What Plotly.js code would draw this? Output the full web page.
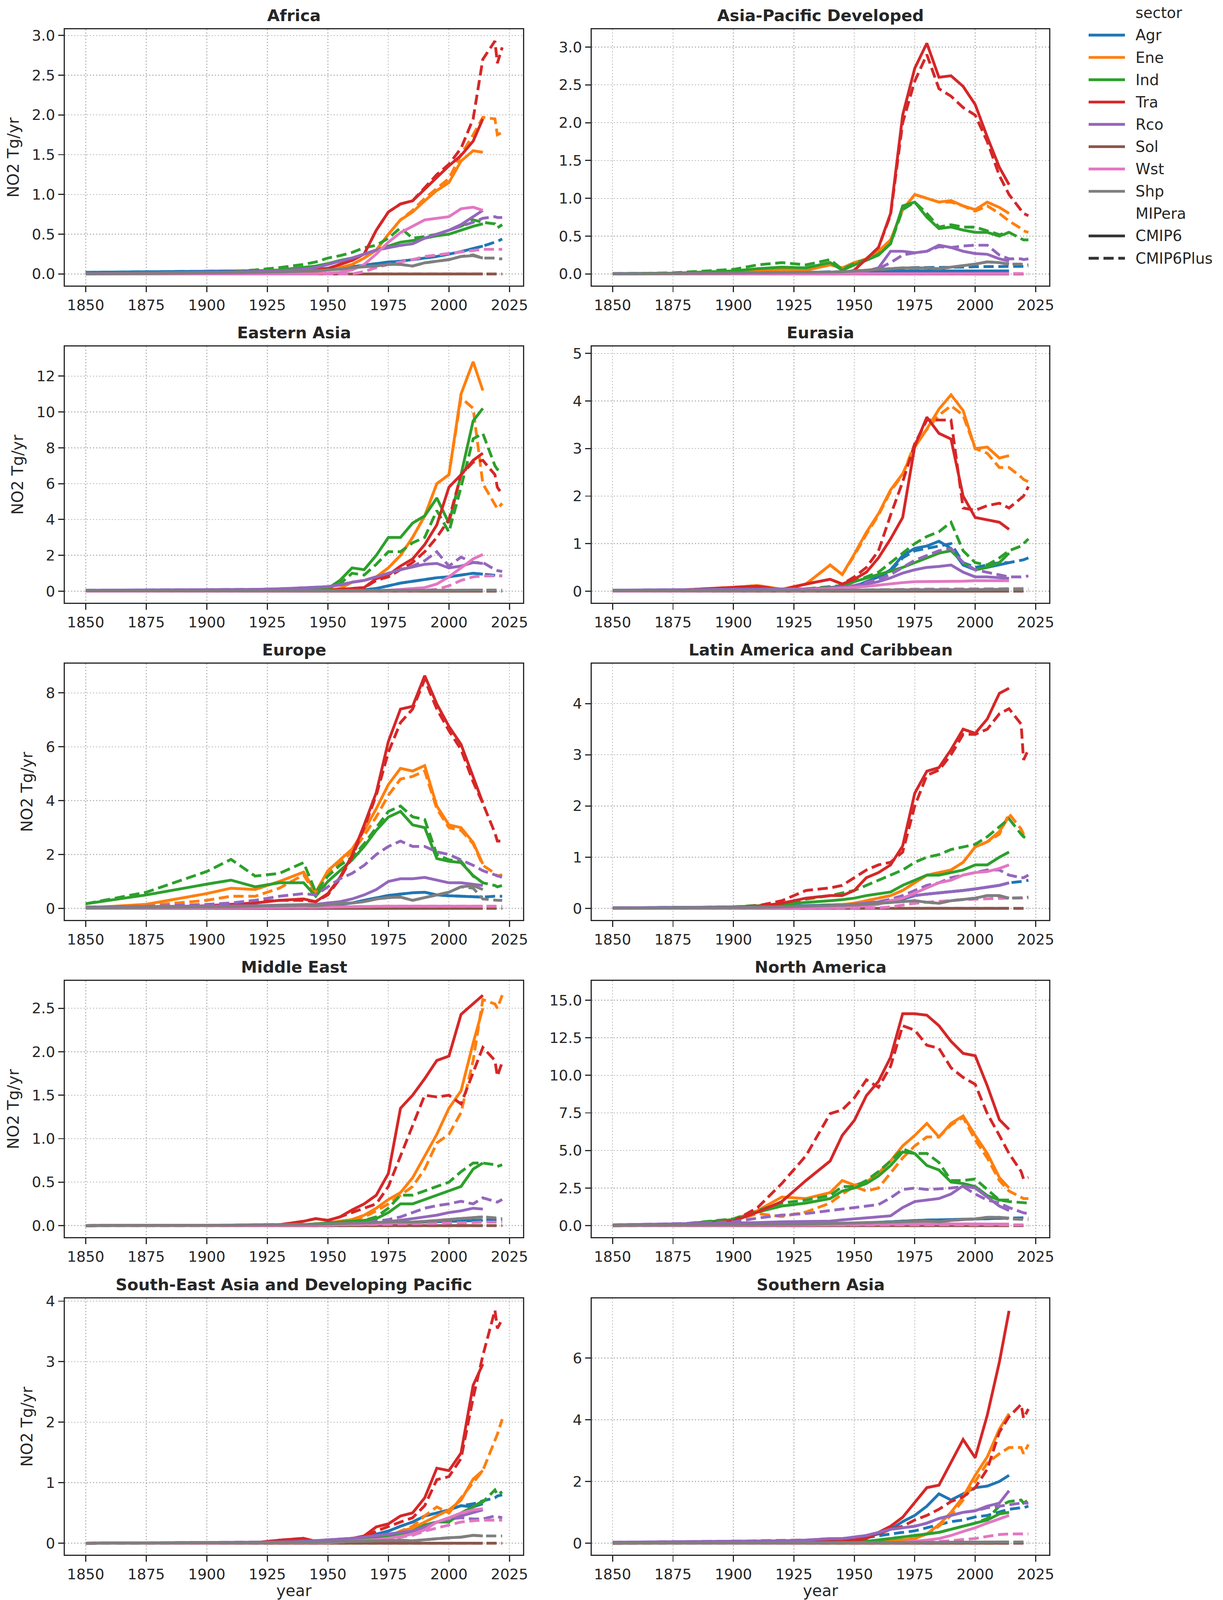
<!DOCTYPE html>
<html><head><meta charset="utf-8">
<script src="https://cdn.plot.ly/plotly-3.0.1.min.js"></script>
<style>html,body{margin:0;padding:0;background:#fff;overflow:hidden}</style>
</head><body><div id="chart"></div>
<script>
// ---------------- DATA ----------------
const YEARS_C6 = [1850,1875,1900,1910,1920,1930,1940,1945,1950,1955,1960,1965,1970,1975,1980,1985,1990,1995,2000,2005,2010,2014];
const YEARS_PL = [1850,1875,1900,1910,1920,1930,1940,1945,1950,1955,1960,1965,1970,1975,1980,1985,1990,1995,2000,2005,2010,2014,2019,2020,2022];
const SECTORS = ['Agr','Ene','Ind','Tra','Rco','Sol','Wst','Shp'];
const SECTOR_COLORS = ['#1f77b4','#ff7f0e','#2ca02c','#d62728','#9467bd','#8c564b','#e377c2','#7f7f7f'];
const MIPERAS = ['CMIP6','CMIP6Plus'];
const REGIONS = ['Africa','Asia-Pacific Developed','Eastern Asia','Eurasia','Europe','Latin America and Caribbean','Middle East','North America','South-East Asia and Developing Pacific','Southern Asia'];
const REGION_YMAX = [2.93,3.08,13.0,4.9,8.65,4.55,2.68,15.5,3.85,7.55];
const REGION_DTICK = [0.5,0.5,2,1,2,1,0.5,2.5,1,2];
const SOL_C6 = [0,0,0,0,0,0,0,0,0,0,0,0,0,0,0,0,0,0,0,0,0,0];
const SOL_PL = [0,0,0,0,0,0,0,0,0,0,0,0,0,0,0,0,0,0,0,0,0,0,0,0,0];

// Africa
const AFR_AGR_C6=[0.02,0.025,0.03,0.035,0.04,0.045,0.05,0.06,0.07,0.08,0.09,0.11,0.13,0.15,0.16,0.18,0.2,0.22,0.25,0.28,0.32,0.35];
const AFR_AGR_PL=[0.02,0.025,0.03,0.035,0.04,0.045,0.05,0.06,0.07,0.08,0.09,0.11,0.13,0.15,0.16,0.18,0.2,0.22,0.25,0.28,0.32,0.35,0.4,0.41,0.44];
const AFR_ENE_C6=[0,0,0,0,0.005,0.01,0.02,0.03,0.05,0.08,0.12,0.2,0.3,0.5,0.68,0.78,0.92,1.05,1.15,1.42,1.55,1.53];
const AFR_ENE_PL=[0,0,0,0,0.005,0.01,0.02,0.03,0.05,0.08,0.12,0.2,0.3,0.5,0.68,0.8,0.95,1.08,1.2,1.5,1.75,1.97,1.95,1.75,1.78];
const AFR_IND_C6=[0,0,0.01,0.02,0.03,0.05,0.08,0.1,0.13,0.17,0.2,0.25,0.3,0.35,0.4,0.42,0.45,0.48,0.5,0.55,0.6,0.63];
const AFR_IND_PL=[0,0,0.01,0.03,0.05,0.08,0.12,0.15,0.2,0.23,0.27,0.33,0.36,0.45,0.58,0.45,0.47,0.5,0.55,0.6,0.68,0.65,0.63,0.58,0.62];
const AFR_TRA_C6=[0,0,0,0.005,0.01,0.02,0.04,0.05,0.07,0.12,0.17,0.25,0.55,0.78,0.88,0.92,1.07,1.21,1.36,1.49,1.67,1.95];
const AFR_TRA_PL=[0,0,0,0.005,0.01,0.02,0.04,0.05,0.07,0.12,0.17,0.25,0.55,0.78,0.88,0.92,1.08,1.25,1.38,1.58,1.95,2.7,2.93,2.65,2.85];
const AFR_RCO_C6=[0.005,0.01,0.02,0.025,0.03,0.04,0.06,0.08,0.12,0.16,0.2,0.25,0.3,0.33,0.36,0.38,0.45,0.5,0.55,0.62,0.72,0.8];
const AFR_RCO_PL=[0.005,0.01,0.02,0.025,0.03,0.04,0.06,0.08,0.12,0.16,0.2,0.25,0.3,0.33,0.36,0.38,0.45,0.5,0.55,0.6,0.65,0.7,0.72,0.71,0.71];
const AFR_WST_C6=[0,0,0,0,0,0,0,0,0.01,0.02,0.05,0.12,0.25,0.4,0.52,0.6,0.68,0.7,0.72,0.82,0.84,0.8];
const AFR_WST_PL=[0,0,0,0,0,0,0,0,0,0,0,0.03,0.08,0.12,0.15,0.18,0.22,0.24,0.26,0.28,0.3,0.31,0.31,0.31,0.31];
const AFR_SHP_C6=[0,0.005,0.01,0.015,0.02,0.025,0.03,0.04,0.05,0.06,0.08,0.09,0.1,0.12,0.12,0.1,0.14,0.16,0.18,0.22,0.23,0.2];
const AFR_SHP_PL=[0,0.005,0.01,0.015,0.02,0.025,0.03,0.04,0.05,0.06,0.08,0.09,0.1,0.12,0.12,0.1,0.14,0.16,0.18,0.22,0.24,0.2,0.2,0.19,0.19];

// Asia-Pacific Developed
const APD_AGR_C6=[0.005,0.008,0.01,0.012,0.015,0.02,0.025,0.025,0.03,0.035,0.04,0.04,0.04,0.04,0.04,0.04,0.04,0.04,0.04,0.04,0.04,0.04];
const APD_AGR_PL=[0.005,0.008,0.01,0.012,0.015,0.02,0.03,0.03,0.04,0.05,0.06,0.07,0.08,0.085,0.085,0.085,0.09,0.09,0.095,0.1,0.1,0.1,0.1,0.1,0.1];
const APD_ENE_C6=[0,0.005,0.02,0.04,0.06,0.05,0.12,0.08,0.15,0.2,0.3,0.45,0.85,1.05,1.0,0.95,0.97,0.9,0.85,0.95,0.88,0.8];
const APD_ENE_PL=[0,0.005,0.02,0.04,0.06,0.05,0.12,0.08,0.15,0.2,0.3,0.45,0.85,1.05,1.0,0.95,0.95,0.9,0.83,0.9,0.8,0.7,0.6,0.57,0.55];
const APD_IND_C6=[0,0.01,0.04,0.07,0.09,0.08,0.15,0.05,0.12,0.18,0.25,0.4,0.9,0.95,0.75,0.6,0.62,0.58,0.55,0.55,0.5,0.55];
const APD_IND_PL=[0,0.015,0.06,0.12,0.15,0.12,0.19,0.06,0.14,0.19,0.26,0.4,0.85,0.95,0.8,0.62,0.65,0.62,0.62,0.57,0.52,0.55,0.47,0.45,0.45];
const APD_TRA_C6=[0,0,0,0,0,0,0,0,0.05,0.2,0.35,0.8,2.1,2.72,3.05,2.6,2.62,2.48,2.24,1.81,1.41,1.18];
const APD_TRA_PL=[0,0,0,0,0,0,0,0,0.05,0.2,0.35,0.78,2.0,2.55,2.9,2.45,2.35,2.2,2.1,1.75,1.3,1.05,0.85,0.8,0.77];
const APD_RCO_C6=[0,0,0.005,0.01,0.01,0.015,0.02,0.02,0.03,0.04,0.08,0.3,0.3,0.28,0.3,0.38,0.35,0.3,0.27,0.26,0.2,0.17];
const APD_RCO_PL=[0,0,0.005,0.01,0.01,0.015,0.02,0.02,0.03,0.04,0.07,0.15,0.25,0.28,0.3,0.36,0.35,0.37,0.38,0.38,0.25,0.2,0.2,0.19,0.2];
const APD_WST_C6=[0,0,0,0,0,0,0,0,0,0,0.002,0.003,0.004,0.004,0.005,0.005,0.005,0.005,0.005,0.005,0.005,0.005];
const APD_WST_PL=[0,0,0,0,0,0,0,0,0,0,0.002,0.003,0.004,0.004,0.005,0.005,0.005,0.005,0.005,0.005,0.005,0.005,0.005,0.005,0.005];
const APD_SHP_C6=[0,0.005,0.01,0.012,0.015,0.02,0.025,0.03,0.04,0.05,0.06,0.07,0.08,0.08,0.08,0.07,0.09,0.11,0.13,0.16,0.15,0.13];
const APD_SHP_PL=[0,0.005,0.01,0.012,0.015,0.02,0.025,0.03,0.04,0.05,0.06,0.07,0.08,0.08,0.08,0.07,0.09,0.11,0.13,0.16,0.15,0.13,0.13,0.12,0.12];

// Eastern Asia
const EAS_AGR_C6=[0,0,0,0,0,0.01,0.02,0.03,0.03,0.04,0.05,0.08,0.15,0.3,0.45,0.55,0.65,0.75,0.8,0.9,1.0,0.95];
const EAS_AGR_PL=[0,0,0,0,0,0.01,0.02,0.03,0.03,0.04,0.05,0.08,0.15,0.3,0.45,0.55,0.65,0.75,0.8,0.9,1.0,0.95,0.9,0.88,0.85];
const EAS_ENE_C6=[0,0,0,0,0.01,0.02,0.04,0.05,0.08,0.15,0.5,0.6,0.8,1.3,2.0,3.0,4.2,6.0,6.5,11.0,12.8,11.2];
const EAS_ENE_PL=[0,0,0,0,0.01,0.02,0.04,0.05,0.08,0.15,0.5,0.6,0.8,1.3,2.0,3.0,4.2,6.0,6.5,10.8,10.2,6.0,4.8,4.6,4.9];
const EAS_IND_C6=[0,0,0,0,0.02,0.04,0.08,0.1,0.15,0.6,1.3,1.2,2.0,3.0,3.0,3.8,4.2,5.2,3.8,6.5,9.5,10.2];
const EAS_IND_PL=[0,0,0,0,0.02,0.04,0.08,0.1,0.15,0.4,1.0,0.9,1.5,2.2,2.2,2.7,3.0,4.5,3.3,5.8,8.5,8.8,7.0,6.8,6.7];
const EAS_TRA_C6=[0,0,0,0,0,0.01,0.02,0.03,0.05,0.1,0.15,0.2,0.7,0.9,1.4,1.8,2.6,3.7,5.8,6.5,7.3,7.7];
const EAS_TRA_PL=[0,0,0,0,0,0.01,0.02,0.03,0.05,0.1,0.15,0.2,0.6,0.8,1.2,1.6,2.2,3.0,4.0,6.5,7.2,7.3,6.5,5.8,5.4];
const EAS_RCO_C6=[0.05,0.06,0.08,0.09,0.1,0.13,0.18,0.2,0.25,0.35,0.5,0.6,0.8,1.0,1.2,1.35,1.5,1.55,1.3,1.4,1.6,1.55];
const EAS_RCO_PL=[0.05,0.06,0.08,0.09,0.1,0.13,0.18,0.2,0.25,0.35,0.5,0.6,0.8,1.0,1.2,1.4,1.7,2.2,1.4,1.9,1.6,1.6,1.2,1.15,1.1];
const EAS_WST_C6=[0,0,0,0,0,0,0,0,0,0,0.01,0.02,0.03,0.05,0.1,0.15,0.2,0.4,0.8,1.3,1.8,2.05];
const EAS_WST_PL=[0,0,0,0,0,0,0,0,0,0,0,0,0,0.01,0.02,0.03,0.05,0.1,0.3,0.6,0.8,0.85,0.85,0.85,0.85];
const EAS_SHP_C6=[0.02,0.02,0.02,0.02,0.02,0.02,0.03,0.03,0.03,0.03,0.03,0.04,0.04,0.04,0.04,0.05,0.05,0.05,0.05,0.05,0.06,0.06];
const EAS_SHP_PL=[0.02,0.02,0.02,0.02,0.02,0.02,0.03,0.03,0.03,0.03,0.03,0.04,0.04,0.04,0.04,0.05,0.05,0.05,0.05,0.05,0.06,0.06,0.06,0.06,0.06];

// Eurasia
const EUA_AGR_C6=[0.01,0.015,0.02,0.02,0.02,0.03,0.05,0.05,0.1,0.2,0.3,0.45,0.75,0.9,0.95,1.05,0.9,0.55,0.45,0.5,0.55,0.6];
const EUA_AGR_PL=[0.01,0.015,0.02,0.02,0.02,0.03,0.05,0.05,0.1,0.2,0.3,0.42,0.7,0.85,0.9,0.95,1.0,0.6,0.5,0.55,0.6,0.6,0.65,0.66,0.7];
const EUA_ENE_C6=[0,0.02,0.08,0.12,0.04,0.15,0.55,0.35,0.78,1.24,1.63,2.13,2.47,3.03,3.41,3.83,4.13,3.8,3.0,3.03,2.8,2.85];
const EUA_ENE_PL=[0,0.02,0.08,0.12,0.04,0.15,0.55,0.35,0.75,1.2,1.6,2.1,2.45,3.1,3.4,3.7,3.9,3.7,3.0,2.9,2.6,2.6,2.4,2.35,2.3];
const EUA_IND_C6=[0,0.005,0.01,0.015,0.01,0.04,0.08,0.1,0.2,0.28,0.35,0.42,0.5,0.6,0.7,0.8,0.85,0.6,0.45,0.5,0.6,0.8];
const EUA_IND_PL=[0,0.005,0.01,0.015,0.01,0.05,0.1,0.12,0.2,0.3,0.4,0.6,0.8,1.0,1.15,1.25,1.45,0.85,0.6,0.55,0.7,0.85,0.95,1.0,1.1];
const EUA_TRA_C6=[0,0.01,0.08,0.1,0.03,0.15,0.25,0.15,0.25,0.4,0.7,1.1,1.55,3.05,3.66,3.32,3.2,2.0,1.55,1.5,1.45,1.3];
const EUA_TRA_PL=[0,0.01,0.08,0.1,0.03,0.15,0.25,0.15,0.3,0.5,0.85,1.6,2.3,3.1,3.6,3.6,3.6,1.75,1.7,1.8,1.85,1.75,1.95,2.0,2.2];
const EUA_RCO_C6=[0.02,0.025,0.03,0.035,0.04,0.05,0.07,0.08,0.1,0.15,0.2,0.28,0.38,0.45,0.5,0.52,0.55,0.4,0.3,0.3,0.28,0.27];
const EUA_RCO_PL=[0.02,0.025,0.03,0.035,0.04,0.05,0.07,0.08,0.12,0.18,0.25,0.35,0.5,0.65,0.75,0.85,0.9,0.6,0.45,0.4,0.35,0.3,0.3,0.31,0.32];
const EUA_WST_C6=[0,0,0.01,0.015,0.02,0.03,0.05,0.06,0.08,0.1,0.13,0.16,0.18,0.2,0.2,0.2,0.21,0.21,0.22,0.22,0.22,0.22];
const EUA_WST_PL=[0,0,0,0,0.005,0.01,0.015,0.02,0.02,0.025,0.03,0.035,0.04,0.04,0.045,0.045,0.05,0.05,0.05,0.05,0.055,0.06,0.06,0.06,0.06];
const EUA_SHP_C6=[0.01,0.01,0.015,0.015,0.015,0.02,0.02,0.02,0.02,0.025,0.025,0.03,0.03,0.03,0.035,0.035,0.035,0.03,0.03,0.035,0.04,0.04];
const EUA_SHP_PL=[0.01,0.01,0.015,0.015,0.015,0.02,0.02,0.02,0.02,0.025,0.025,0.03,0.03,0.03,0.035,0.035,0.035,0.03,0.03,0.035,0.04,0.04,0.04,0.04,0.04];

// Europe
const EUR_AGR_C6=[0.01,0.02,0.03,0.04,0.04,0.05,0.07,0.07,0.1,0.15,0.2,0.3,0.4,0.48,0.53,0.58,0.6,0.5,0.47,0.45,0.42,0.42];
const EUR_AGR_PL=[0.01,0.02,0.03,0.04,0.04,0.05,0.07,0.07,0.1,0.15,0.2,0.3,0.4,0.48,0.53,0.58,0.6,0.5,0.47,0.45,0.42,0.42,0.45,0.45,0.45];
const EUR_ENE_C6=[0.02,0.15,0.55,0.75,0.7,1.0,1.35,0.6,1.4,1.8,2.2,2.9,3.7,4.6,5.2,5.1,5.3,3.8,3.1,3.0,2.45,1.65];
const EUR_ENE_PL=[0,0.1,0.3,0.45,0.45,0.75,1.25,0.5,1.3,1.7,2.1,2.7,3.4,4.2,4.8,4.9,5.1,3.7,3.0,2.9,2.4,1.6,1.3,1.2,1.25];
const EUR_IND_C6=[0.17,0.5,0.9,1.05,0.8,0.95,0.95,0.45,1.0,1.4,1.8,2.3,2.9,3.39,3.6,3.1,3.0,1.85,1.75,1.7,1.22,0.95];
const EUR_IND_PL=[0.17,0.6,1.37,1.82,1.2,1.3,1.7,0.6,1.2,1.6,1.9,2.4,3.0,3.6,3.8,3.4,3.3,2.0,1.8,1.75,1.2,0.95,0.85,0.8,0.85];
const EUR_TRA_C6=[0,0.02,0.1,0.15,0.2,0.3,0.35,0.25,0.55,1.15,1.97,3.1,4.3,6.2,7.4,7.5,8.64,7.59,6.76,6.09,4.89,3.92];
const EUR_TRA_PL=[0,0.02,0.1,0.15,0.25,0.3,0.3,0.25,0.5,1.1,1.9,3.0,4.2,5.8,6.9,7.4,8.5,7.4,6.6,5.9,4.7,3.9,2.8,2.5,2.5];
const EUR_RCO_C6=[0.05,0.06,0.08,0.09,0.1,0.12,0.15,0.15,0.2,0.25,0.35,0.5,0.7,1.0,1.1,1.1,1.15,1.05,0.95,0.95,0.9,0.85];
const EUR_RCO_PL=[0.05,0.08,0.15,0.2,0.3,0.45,0.55,0.5,0.8,1.1,1.3,1.6,2.0,2.3,2.5,2.3,2.3,2.1,2.0,1.8,1.6,1.4,1.25,1.2,1.15];
const EUR_WST_C6=[0,0.005,0.01,0.015,0.02,0.03,0.04,0.04,0.05,0.06,0.07,0.08,0.08,0.08,0.08,0.08,0.08,0.08,0.08,0.08,0.08,0.08];
const EUR_WST_PL=[0,0.005,0.01,0.015,0.02,0.03,0.04,0.04,0.05,0.06,0.07,0.08,0.08,0.08,0.08,0.08,0.08,0.08,0.08,0.08,0.08,0.08,0.08,0.08,0.08];
const EUR_SHP_C6=[0.02,0.03,0.05,0.06,0.08,0.1,0.12,0.1,0.15,0.18,0.2,0.25,0.35,0.4,0.42,0.3,0.4,0.5,0.6,0.8,0.85,0.7];
const EUR_SHP_PL=[0.02,0.03,0.05,0.06,0.08,0.1,0.12,0.1,0.15,0.18,0.2,0.25,0.35,0.4,0.42,0.3,0.4,0.5,0.6,0.8,0.75,0.35,0.3,0.3,0.3];

// Latin America and Caribbean
const LAM_AGR_C6=[0.01,0.015,0.02,0.03,0.04,0.05,0.06,0.07,0.08,0.1,0.12,0.15,0.18,0.25,0.28,0.3,0.32,0.35,0.38,0.42,0.45,0.5];
const LAM_AGR_PL=[0.01,0.015,0.02,0.03,0.04,0.05,0.06,0.07,0.08,0.1,0.12,0.15,0.18,0.25,0.28,0.3,0.32,0.35,0.38,0.42,0.45,0.5,0.52,0.53,0.55];
const LAM_ENE_C6=[0,0,0.01,0.015,0.02,0.03,0.05,0.07,0.1,0.15,0.2,0.25,0.35,0.5,0.65,0.7,0.75,0.9,1.2,1.3,1.5,1.8];
const LAM_ENE_PL=[0,0,0.01,0.015,0.02,0.03,0.05,0.07,0.1,0.15,0.2,0.25,0.35,0.5,0.65,0.7,0.75,0.9,1.2,1.3,1.45,1.85,1.55,1.45,1.5];
const LAM_IND_C6=[0,0.01,0.03,0.05,0.08,0.12,0.15,0.17,0.2,0.25,0.28,0.32,0.45,0.55,0.65,0.65,0.7,0.75,0.85,0.85,1.0,1.1];
const LAM_IND_PL=[0,0.01,0.03,0.06,0.1,0.18,0.25,0.3,0.35,0.45,0.55,0.65,0.75,0.9,1.0,1.05,1.15,1.2,1.25,1.4,1.6,1.75,1.45,1.4,1.35];
const LAM_TRA_C6=[0,0.005,0.02,0.04,0.1,0.2,0.25,0.25,0.35,0.6,0.7,0.85,1.22,2.25,2.68,2.75,3.1,3.5,3.42,3.7,4.2,4.3];
const LAM_TRA_PL=[0,0.005,0.02,0.05,0.15,0.35,0.4,0.45,0.6,0.75,0.85,0.9,1.1,2.0,2.6,2.7,3.0,3.4,3.4,3.5,3.8,3.9,3.6,2.9,3.1];
const LAM_RCO_C6=[0.01,0.015,0.02,0.025,0.03,0.04,0.05,0.06,0.08,0.1,0.12,0.15,0.2,0.25,0.28,0.3,0.32,0.35,0.38,0.42,0.45,0.5];
const LAM_RCO_PL=[0.01,0.015,0.02,0.025,0.03,0.04,0.05,0.06,0.08,0.1,0.13,0.18,0.25,0.35,0.45,0.5,0.6,0.65,0.7,0.75,0.75,0.65,0.6,0.6,0.65];
const LAM_WST_C6=[0,0,0,0,0,0,0.01,0.02,0.03,0.05,0.08,0.15,0.2,0.3,0.4,0.5,0.55,0.65,0.7,0.72,0.78,0.85];
const LAM_WST_PL=[0,0,0,0,0,0,0,0,0,0,0.01,0.03,0.07,0.1,0.12,0.14,0.16,0.17,0.18,0.19,0.2,0.2,0.2,0.2,0.2];
const LAM_SHP_C6=[0,0.005,0.01,0.02,0.03,0.04,0.05,0.06,0.07,0.08,0.1,0.12,0.14,0.15,0.12,0.1,0.15,0.17,0.2,0.25,0.25,0.2];
const LAM_SHP_PL=[0,0.005,0.01,0.02,0.03,0.04,0.05,0.06,0.07,0.08,0.1,0.12,0.14,0.15,0.12,0.1,0.15,0.17,0.2,0.25,0.24,0.2,0.2,0.21,0.22];

// Middle East
const MEA_AGR_C6=[0,0,0.005,0.005,0.005,0.01,0.01,0.01,0.01,0.015,0.02,0.02,0.025,0.03,0.03,0.035,0.04,0.045,0.05,0.055,0.06,0.06];
const MEA_AGR_PL=[0,0,0.005,0.005,0.005,0.01,0.01,0.01,0.01,0.015,0.02,0.02,0.025,0.03,0.03,0.035,0.04,0.045,0.05,0.055,0.06,0.06,0.065,0.065,0.07];
const MEA_ENE_C6=[0,0,0,0,0,0.005,0.01,0.02,0.03,0.05,0.07,0.12,0.2,0.3,0.38,0.55,0.8,1.05,1.35,1.55,2.1,2.5];
const MEA_ENE_PL=[0,0,0,0,0,0.005,0.01,0.02,0.03,0.05,0.07,0.1,0.17,0.25,0.35,0.45,0.65,0.95,1.05,1.3,1.9,2.6,2.55,2.5,2.65];
const MEA_IND_C6=[0,0,0,0,0,0.005,0.01,0.02,0.03,0.04,0.05,0.06,0.08,0.15,0.25,0.25,0.3,0.35,0.4,0.45,0.65,0.72];
const MEA_IND_PL=[0,0,0,0,0,0.005,0.01,0.02,0.03,0.04,0.05,0.06,0.1,0.2,0.35,0.35,0.4,0.45,0.5,0.62,0.72,0.72,0.7,0.68,0.7];
const MEA_TRA_C6=[0,0,0,0,0.005,0.01,0.05,0.08,0.06,0.1,0.18,0.25,0.35,0.6,1.35,1.5,1.69,1.9,1.95,2.43,2.55,2.65];
const MEA_TRA_PL=[0,0,0,0,0.005,0.01,0.05,0.08,0.06,0.1,0.15,0.2,0.25,0.45,0.8,1.15,1.5,1.48,1.5,1.4,1.75,2.05,1.9,1.72,1.88];
const MEA_RCO_C6=[0,0,0,0,0,0.005,0.005,0.01,0.01,0.015,0.02,0.025,0.03,0.045,0.06,0.08,0.1,0.12,0.15,0.17,0.2,0.19];
const MEA_RCO_PL=[0,0,0,0,0,0.005,0.005,0.01,0.01,0.015,0.02,0.03,0.05,0.07,0.1,0.15,0.2,0.23,0.25,0.28,0.25,0.32,0.28,0.27,0.3];
const MEA_WST_C6=[0,0,0,0,0,0,0,0,0.005,0.01,0.01,0.015,0.02,0.025,0.03,0.04,0.05,0.06,0.07,0.08,0.09,0.1];
const MEA_WST_PL=[0,0,0,0,0,0,0,0,0.005,0.01,0.01,0.01,0.015,0.015,0.02,0.02,0.025,0.025,0.03,0.03,0.035,0.04,0.04,0.04,0.04];
const MEA_SHP_C6=[0,0,0.005,0.005,0.01,0.01,0.015,0.015,0.02,0.025,0.03,0.035,0.04,0.045,0.045,0.04,0.045,0.055,0.07,0.08,0.09,0.1];
const MEA_SHP_PL=[0,0,0.005,0.005,0.01,0.01,0.015,0.015,0.02,0.025,0.03,0.035,0.04,0.045,0.045,0.04,0.045,0.055,0.07,0.08,0.09,0.1,0.09,0.08,0.08];

// North America
const NAM_AGR_C6=[0.02,0.03,0.05,0.07,0.09,0.1,0.12,0.13,0.15,0.18,0.22,0.26,0.3,0.35,0.37,0.38,0.4,0.42,0.45,0.48,0.5,0.5];
const NAM_AGR_PL=[0.02,0.03,0.05,0.07,0.09,0.1,0.12,0.13,0.15,0.18,0.22,0.26,0.3,0.35,0.37,0.38,0.4,0.42,0.45,0.48,0.5,0.5,0.55,0.52,0.5];
const NAM_ENE_C6=[0,0.05,0.4,1.0,1.9,1.8,2.2,3.0,2.7,2.9,3.5,4.3,5.3,6.0,6.8,5.9,6.8,7.3,6.0,4.8,3.2,2.5];
const NAM_ENE_PL=[0,0.04,0.3,0.8,0.6,0.9,1.5,2.1,2.6,2.3,2.5,3.5,4.5,5.3,5.9,5.9,6.7,7.2,5.7,4.5,3.0,2.3,1.9,1.8,1.8];
const NAM_IND_C6=[0,0.05,0.4,0.9,1.3,1.5,1.8,2.3,2.5,2.8,3.3,4.0,4.9,4.8,4.0,3.7,2.9,2.8,2.6,2.0,1.7,1.7];
const NAM_IND_PL=[0,0.05,0.45,1.0,1.5,1.7,2.0,2.6,2.6,3.0,3.6,4.3,5.1,4.8,4.8,4.2,3.0,3.0,3.1,2.4,1.7,1.6,1.55,1.5,1.5];
const NAM_TRA_C6=[0,0.02,0.3,0.9,1.6,3.0,4.3,6.0,7.0,8.65,9.6,11.2,14.1,14.1,14.0,13.3,12.26,11.46,11.3,9.3,7.05,6.4];
const NAM_TRA_PL=[0,0.02,0.3,1.2,2.8,4.65,7.45,7.7,8.5,9.7,9.2,10.6,13.3,13.0,12.0,11.8,10.5,9.86,9.4,7.45,6.0,4.8,3.6,3.1,3.2];
const NAM_RCO_C6=[0.05,0.1,0.15,0.2,0.25,0.28,0.3,0.38,0.45,0.52,0.6,0.65,1.2,1.6,1.7,1.8,2.1,2.65,2.5,1.9,1.3,1.0];
const NAM_RCO_PL=[0.05,0.12,0.25,0.5,0.7,0.8,1.0,1.1,1.2,1.3,1.4,1.85,2.4,2.5,2.4,2.45,2.5,2.6,2.1,1.7,1.5,1.2,0.9,0.85,0.8];
const NAM_WST_C6=[0,0,0.01,0.02,0.03,0.04,0.05,0.06,0.07,0.08,0.1,0.13,0.15,0.14,0.13,0.12,0.12,0.11,0.1,0.1,0.1,0.1];
const NAM_WST_PL=[0,0,0.005,0.01,0.015,0.02,0.025,0.03,0.035,0.04,0.045,0.05,0.05,0.05,0.05,0.05,0.05,0.05,0.05,0.05,0.05,0.05,0.05,0.05,0.05];
const NAM_SHP_C6=[0.02,0.03,0.05,0.06,0.08,0.1,0.12,0.15,0.18,0.2,0.22,0.26,0.3,0.32,0.3,0.25,0.35,0.4,0.45,0.55,0.55,0.5];
const NAM_SHP_PL=[0.02,0.03,0.05,0.06,0.08,0.1,0.12,0.15,0.18,0.2,0.22,0.26,0.3,0.32,0.3,0.25,0.35,0.4,0.45,0.55,0.55,0.45,0.4,0.4,0.4];

// South-East Asia and Developing Pacific
const SEA_AGR_C6=[0,0.002,0.005,0.008,0.01,0.015,0.02,0.03,0.04,0.06,0.08,0.1,0.15,0.2,0.28,0.35,0.45,0.5,0.55,0.62,0.6,0.65];
const SEA_AGR_PL=[0,0.002,0.005,0.008,0.01,0.015,0.02,0.03,0.04,0.06,0.08,0.1,0.15,0.2,0.28,0.35,0.45,0.5,0.55,0.62,0.65,0.7,0.75,0.78,0.8];
const SEA_ENE_C6=[0,0,0,0,0.002,0.005,0.008,0.01,0.01,0.02,0.03,0.045,0.06,0.1,0.2,0.25,0.35,0.45,0.55,0.71,1.06,1.2];
const SEA_ENE_PL=[0,0,0,0,0.002,0.005,0.008,0.01,0.01,0.02,0.03,0.045,0.06,0.1,0.2,0.28,0.45,0.6,0.5,0.75,1.0,1.2,1.7,1.8,2.05];
const SEA_IND_C6=[0,0,0,0.002,0.005,0.008,0.01,0.01,0.02,0.03,0.04,0.06,0.08,0.11,0.15,0.2,0.3,0.35,0.35,0.5,0.6,0.7];
const SEA_IND_PL=[0,0,0,0.002,0.005,0.008,0.01,0.01,0.02,0.03,0.04,0.06,0.08,0.11,0.15,0.2,0.3,0.35,0.35,0.48,0.6,0.68,0.88,0.8,0.85];
const SEA_TRA_C6=[0,0.002,0.005,0.008,0.01,0.05,0.08,0.03,0.04,0.06,0.08,0.12,0.27,0.32,0.45,0.5,0.75,1.24,1.2,1.49,2.61,2.96];
const SEA_TRA_PL=[0,0.002,0.005,0.008,0.01,0.05,0.08,0.03,0.04,0.06,0.08,0.1,0.2,0.28,0.35,0.42,0.62,1.05,1.1,1.4,2.4,3.1,3.85,3.55,3.7];
const SEA_RCO_C6=[0,0.005,0.01,0.012,0.015,0.02,0.03,0.04,0.05,0.06,0.08,0.1,0.12,0.15,0.18,0.2,0.27,0.35,0.42,0.45,0.5,0.55];
const SEA_RCO_PL=[0,0.005,0.01,0.012,0.015,0.02,0.03,0.04,0.05,0.06,0.08,0.1,0.12,0.15,0.18,0.2,0.27,0.35,0.4,0.42,0.4,0.4,0.45,0.44,0.42];
const SEA_WST_C6=[0,0,0,0,0,0,0.005,0.005,0.01,0.02,0.03,0.045,0.06,0.08,0.12,0.15,0.22,0.35,0.42,0.5,0.55,0.57];
const SEA_WST_PL=[0,0,0,0,0,0,0.005,0.005,0.01,0.02,0.03,0.04,0.05,0.07,0.1,0.13,0.2,0.25,0.3,0.35,0.37,0.38,0.38,0.38,0.38];
const SEA_SHP_C6=[0,0.002,0.005,0.008,0.01,0.012,0.015,0.015,0.02,0.025,0.03,0.035,0.04,0.045,0.05,0.04,0.06,0.08,0.09,0.1,0.13,0.12];
const SEA_SHP_PL=[0,0.002,0.005,0.008,0.01,0.012,0.015,0.015,0.02,0.025,0.03,0.035,0.04,0.045,0.05,0.04,0.06,0.08,0.09,0.1,0.13,0.12,0.12,0.12,0.12];

// Southern Asia
const SAS_AGR_C6=[0,0.01,0.02,0.03,0.04,0.05,0.07,0.08,0.1,0.2,0.3,0.45,0.7,0.9,1.2,1.6,1.4,1.6,1.8,1.85,2.0,2.2];
const SAS_AGR_PL=[0,0.01,0.02,0.03,0.04,0.05,0.07,0.08,0.1,0.18,0.25,0.3,0.35,0.4,0.5,0.6,0.7,0.75,0.85,0.9,1.0,1.1,1.15,1.15,1.2];
const SAS_ENE_C6=[0,0,0,0,0.002,0.005,0.008,0.01,0.01,0.03,0.05,0.08,0.1,0.15,0.3,0.6,1.0,1.5,2.2,2.8,3.7,4.2];
const SAS_ENE_PL=[0,0,0,0,0.002,0.005,0.008,0.01,0.01,0.03,0.05,0.08,0.1,0.15,0.3,0.55,0.9,1.4,2.0,2.6,2.9,3.1,3.1,2.9,3.2];
const SAS_IND_C6=[0,0,0.005,0.008,0.01,0.015,0.02,0.025,0.03,0.06,0.1,0.15,0.2,0.25,0.3,0.35,0.45,0.55,0.65,0.75,0.95,1.0];
const SAS_IND_PL=[0,0,0.005,0.008,0.01,0.015,0.02,0.025,0.03,0.06,0.1,0.15,0.2,0.25,0.3,0.35,0.45,0.55,0.65,0.8,1.2,1.35,1.4,1.3,1.4];
const SAS_TRA_C6=[0,0.01,0.02,0.03,0.05,0.05,0.05,0.05,0.08,0.15,0.35,0.55,0.84,1.32,1.8,1.88,2.63,3.36,2.77,4.15,5.87,7.53];
const SAS_TRA_PL=[0,0.02,0.04,0.08,0.1,0.1,0.1,0.08,0.1,0.2,0.3,0.45,0.55,0.75,0.9,1.1,1.35,1.5,1.8,2.4,3.6,4.1,4.5,4.05,4.35];
const SAS_RCO_C6=[0.03,0.04,0.05,0.06,0.08,0.1,0.15,0.15,0.2,0.25,0.35,0.45,0.5,0.55,0.65,0.8,0.9,1.0,1.05,1.2,1.3,1.7];
const SAS_RCO_PL=[0.03,0.04,0.05,0.06,0.08,0.1,0.15,0.15,0.2,0.25,0.35,0.45,0.5,0.55,0.65,0.8,0.9,1.0,1.05,1.15,1.2,1.25,1.3,1.3,1.3];
const SAS_WST_C6=[0,0,0,0,0,0,0,0,0,0.005,0.01,0.02,0.03,0.06,0.1,0.15,0.25,0.38,0.5,0.65,0.8,0.9];
const SAS_WST_PL=[0,0,0,0,0,0,0,0,0,0,0,0.005,0.01,0.02,0.03,0.05,0.08,0.12,0.15,0.22,0.28,0.3,0.3,0.3,0.3];
const SAS_SHP_C6=[0.005,0.005,0.01,0.01,0.01,0.01,0.015,0.015,0.015,0.02,0.02,0.02,0.02,0.025,0.025,0.025,0.03,0.03,0.03,0.035,0.04,0.04];
const SAS_SHP_PL=[0.005,0.005,0.01,0.01,0.01,0.01,0.015,0.015,0.015,0.02,0.02,0.02,0.02,0.025,0.025,0.025,0.03,0.03,0.03,0.035,0.04,0.04,0.04,0.04,0.04];

// table built from the named arrays: region -> sector -> [CMIP6, CMIP6Plus]
const TABLE = [
 [[AFR_AGR_C6,AFR_AGR_PL],[AFR_ENE_C6,AFR_ENE_PL],[AFR_IND_C6,AFR_IND_PL],[AFR_TRA_C6,AFR_TRA_PL],[AFR_RCO_C6,AFR_RCO_PL],[SOL_C6,SOL_PL],[AFR_WST_C6,AFR_WST_PL],[AFR_SHP_C6,AFR_SHP_PL]],
 [[APD_AGR_C6,APD_AGR_PL],[APD_ENE_C6,APD_ENE_PL],[APD_IND_C6,APD_IND_PL],[APD_TRA_C6,APD_TRA_PL],[APD_RCO_C6,APD_RCO_PL],[SOL_C6,SOL_PL],[APD_WST_C6,APD_WST_PL],[APD_SHP_C6,APD_SHP_PL]],
 [[EAS_AGR_C6,EAS_AGR_PL],[EAS_ENE_C6,EAS_ENE_PL],[EAS_IND_C6,EAS_IND_PL],[EAS_TRA_C6,EAS_TRA_PL],[EAS_RCO_C6,EAS_RCO_PL],[SOL_C6,SOL_PL],[EAS_WST_C6,EAS_WST_PL],[EAS_SHP_C6,EAS_SHP_PL]],
 [[EUA_AGR_C6,EUA_AGR_PL],[EUA_ENE_C6,EUA_ENE_PL],[EUA_IND_C6,EUA_IND_PL],[EUA_TRA_C6,EUA_TRA_PL],[EUA_RCO_C6,EUA_RCO_PL],[SOL_C6,SOL_PL],[EUA_WST_C6,EUA_WST_PL],[EUA_SHP_C6,EUA_SHP_PL]],
 [[EUR_AGR_C6,EUR_AGR_PL],[EUR_ENE_C6,EUR_ENE_PL],[EUR_IND_C6,EUR_IND_PL],[EUR_TRA_C6,EUR_TRA_PL],[EUR_RCO_C6,EUR_RCO_PL],[SOL_C6,SOL_PL],[EUR_WST_C6,EUR_WST_PL],[EUR_SHP_C6,EUR_SHP_PL]],
 [[LAM_AGR_C6,LAM_AGR_PL],[LAM_ENE_C6,LAM_ENE_PL],[LAM_IND_C6,LAM_IND_PL],[LAM_TRA_C6,LAM_TRA_PL],[LAM_RCO_C6,LAM_RCO_PL],[SOL_C6,SOL_PL],[LAM_WST_C6,LAM_WST_PL],[LAM_SHP_C6,LAM_SHP_PL]],
 [[MEA_AGR_C6,MEA_AGR_PL],[MEA_ENE_C6,MEA_ENE_PL],[MEA_IND_C6,MEA_IND_PL],[MEA_TRA_C6,MEA_TRA_PL],[MEA_RCO_C6,MEA_RCO_PL],[SOL_C6,SOL_PL],[MEA_WST_C6,MEA_WST_PL],[MEA_SHP_C6,MEA_SHP_PL]],
 [[NAM_AGR_C6,NAM_AGR_PL],[NAM_ENE_C6,NAM_ENE_PL],[NAM_IND_C6,NAM_IND_PL],[NAM_TRA_C6,NAM_TRA_PL],[NAM_RCO_C6,NAM_RCO_PL],[SOL_C6,SOL_PL],[NAM_WST_C6,NAM_WST_PL],[NAM_SHP_C6,NAM_SHP_PL]],
 [[SEA_AGR_C6,SEA_AGR_PL],[SEA_ENE_C6,SEA_ENE_PL],[SEA_IND_C6,SEA_IND_PL],[SEA_TRA_C6,SEA_TRA_PL],[SEA_RCO_C6,SEA_RCO_PL],[SOL_C6,SOL_PL],[SEA_WST_C6,SEA_WST_PL],[SEA_SHP_C6,SEA_SHP_PL]],
 [[SAS_AGR_C6,SAS_AGR_PL],[SAS_ENE_C6,SAS_ENE_PL],[SAS_IND_C6,SAS_IND_PL],[SAS_TRA_C6,SAS_TRA_PL],[SAS_RCO_C6,SAS_RCO_PL],[SOL_C6,SOL_PL],[SAS_WST_C6,SAS_WST_PL],[SAS_SHP_C6,SAS_SHP_PL]]
];

// ---------------- LAYOUT / DRAW ----------------
// reference frame is 3131 x 4252; everything is placed in that frame and scaled to the real viewport
const REF_W = 3131, REF_H = 4252;
const W = Math.round(window.innerWidth || REF_W);
const H = Math.round(window.innerHeight || REF_H);
const SC = Math.min(W/REF_W, H/REF_H);
const px = v => v*SC;
const chartDiv = document.getElementById('chart');
chartDiv.style.width = W+'px'; chartDiv.style.height = H+'px';

const FONT = 'DejaVu Sans, Liberation Sans, sans-serif';
const TXT = '#262626';
const COL_X = [[166,1339],[1515,2686]];
const ROW_TOP = [78,921,1764,2607,3451];
const AX_H = 681;
const LINE_W = px(7.5);
const DASH = Math.round(px(27))+'px,'+Math.round(px(12))+'px';

const traces = [];
const layout = {
  width: W, height: H,
  margin: {l:0, r:0, t:0, b:0},
  paper_bgcolor: '#ffffff', plot_bgcolor: '#ffffff',
  font: {family: FONT, color: TXT, size: px(39)},
  showlegend: false,
  annotations: [], shapes: []
};

REGIONS.forEach((name, i) => {
  const row = Math.floor(i/2), col = i%2;
  const k = i+1;
  const xa = 'x'+(k===1?'':k), ya = 'y'+(k===1?'':k);
  const top = ROW_TOP[row];
  const yDom = [1-(top+AX_H)/REF_H, 1-top/REF_H];
  const xDom = [COL_X[col][0]/REF_W, COL_X[col][1]/REF_W];
  const common = {
    showline: true, mirror: true, linecolor: TXT, linewidth: px(3),
    ticks: 'outside', ticklen: px(15), tickwidth: px(3), tickcolor: TXT,
    tickfont: {family: FONT, size: px(39), color: TXT},
    showgrid: true, gridcolor: '#b8b8b8', gridwidth: px(2.5), griddash: Math.max(1,Math.round(px(3)))+'px,'+Math.max(2,Math.round(px(5)))+'px',
    zeroline: false, automargin: false
  };
  layout['xaxis'+(k===1?'':k)] = Object.assign({}, common, {
    domain: xDom, anchor: ya, range: [1841.4, 2030.6],
    tick0: 1850, dtick: 25, tickformat: 'd',
    title: row===4 ? {text:'year', font:{family:FONT,size:px(42),color:TXT}, standoff: px(8)} : {text:''}
  });
  const ymax = REGION_YMAX[i];
  const dt = REGION_DTICK[i];
  layout['yaxis'+(k===1?'':k)] = Object.assign({}, common, {
    domain: yDom, anchor: xa, range: [-0.05*ymax, 1.05*ymax],
    tick0: 0, dtick: dt, tickformat: (dt%1!==0) ? '.1f' : 'd',
    title: col===0 ? {text:'NO2 Tg/yr', font:{family:FONT,size:px(42),color:TXT}, standoff: px(22)} : {text:''}
  });
  layout.annotations.push({
    xref:'paper', yref:'paper', x:(xDom[0]+xDom[1])/2, y:yDom[1],
    xanchor:'center', yanchor:'bottom', yshift: px(10), showarrow:false,
    text:'<b>'+name+'</b>', font:{family:FONT, size:px(43), color:TXT}
  });
  SECTORS.forEach((sec, s) => {
    const pair = TABLE[i][s];
    traces.push({type:'scatter', mode:'lines', x: YEARS_C6, y: pair[0], xaxis: xa, yaxis: ya,
      name: sec+' '+MIPERAS[0], line:{color:SECTOR_COLORS[s], width:LINE_W}, hoverinfo:'skip'});
    traces.push({type:'scatter', mode:'lines', x: YEARS_PL, y: pair[1], xaxis: xa, yaxis: ya,
      name: sec+' '+MIPERAS[1], line:{color:SECTOR_COLORS[s], width:LINE_W, dash:DASH}, hoverinfo:'skip'});
  });
});

// ---------------- LEGEND (drawn in paper space) ----------------
const LEG_X0 = 2787, LEG_X1 = 2880, LEG_TX = 2905, LEG_Y0 = 34, LEG_DY = 59.3;
const legRows = [{title:'sector'}].concat(
  SECTORS.map((s,j)=>({label:s, color:SECTOR_COLORS[j], dash:'solid'})),
  [{title:'MIPera'}, {label:MIPERAS[0], color:'#333333', dash:'solid'}, {label:MIPERAS[1], color:'#333333', dash:DASH}]
);
legRows.forEach((r, j) => {
  const yp = 1 - (LEG_Y0 + j*LEG_DY)/REF_H;
  layout.annotations.push({xref:'paper', yref:'paper', x:LEG_TX/REF_W, y:yp, xanchor:'left', yanchor:'middle',
    showarrow:false, text: r.title || r.label, font:{family:FONT, size:px(40), color:TXT}});
  if (r.label) {
    layout.shapes.push({type:'line', xref:'paper', yref:'paper', x0:LEG_X0/REF_W, x1:LEG_X1/REF_W, y0:yp, y1:yp,
      line:{color:r.color, width:LINE_W, dash:r.dash}});
  }
});

Plotly.newPlot('chart', traces, layout, {staticPlot:true, displayModeBar:false});
</script>
</body></html>
